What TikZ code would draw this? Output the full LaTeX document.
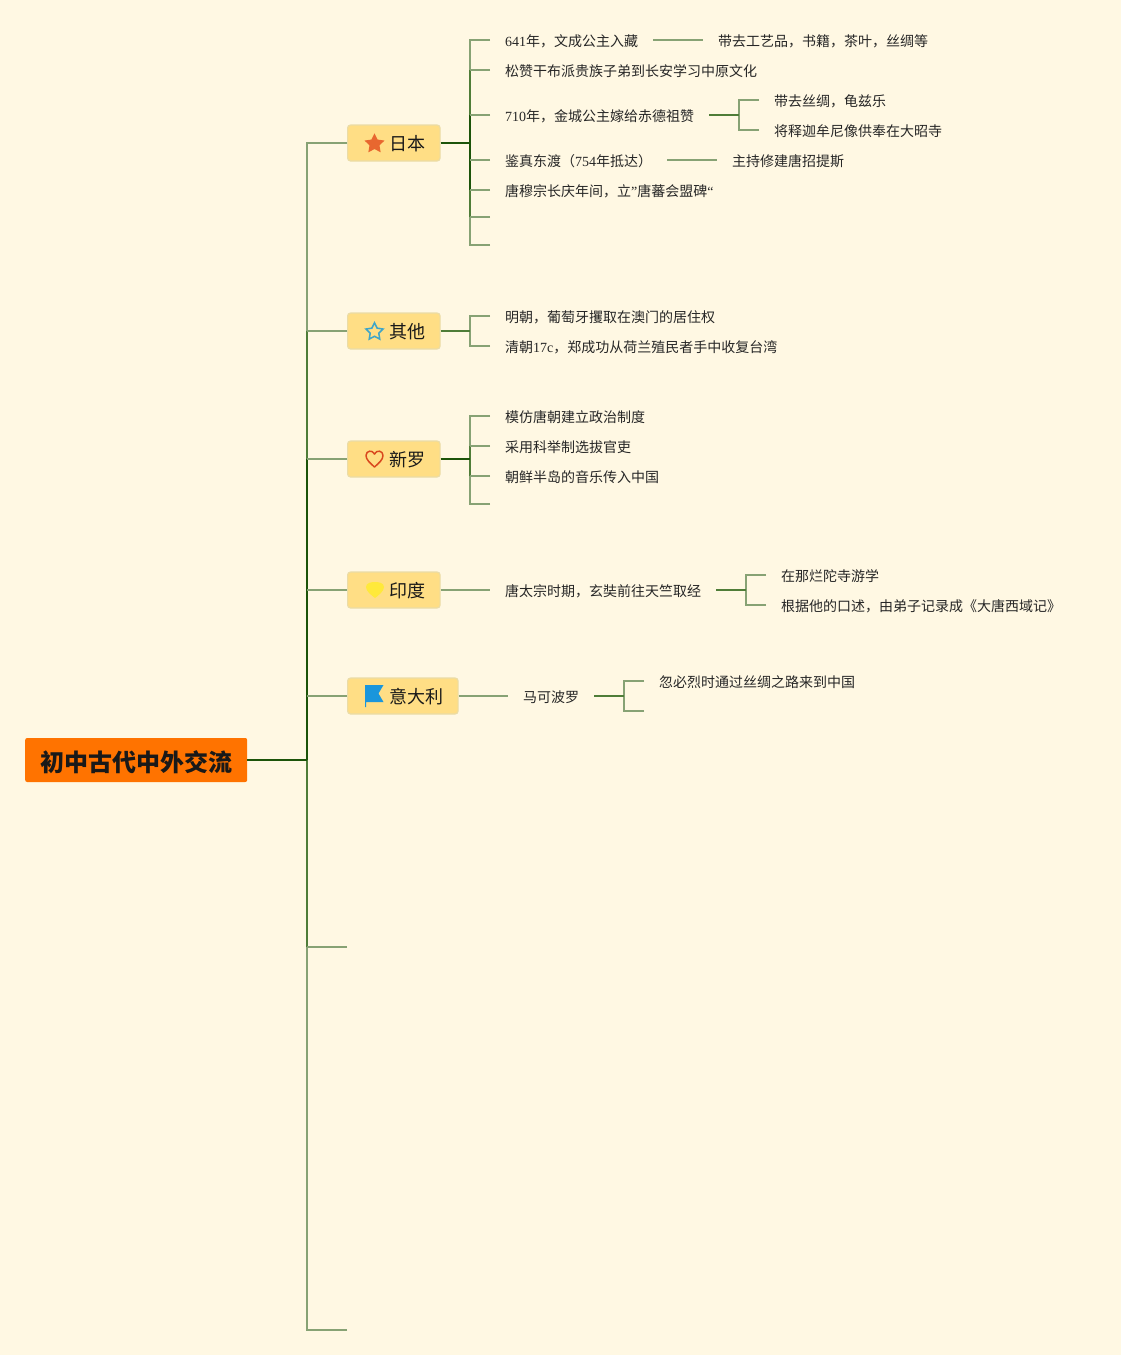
\documentclass[tikz,border=0pt]{standalone}
\usepackage{fontspec}
\setmainfont{Noto Sans CJK SC}
\newfontfamily\latf{Liberation Serif}
\newcommand{\lat}[1]{{\latf #1}}
\usetikzlibrary{shapes.geometric}
\definecolor{bgc}{HTML}{FFF8E3}
\definecolor{ltc}{HTML}{87A274}
\definecolor{mdc}{HTML}{4F7D38}
\definecolor{dkc}{HTML}{1C5409}
\definecolor{rootc}{HTML}{FF7300}
\definecolor{boxc}{HTML}{FFDE85}
\definecolor{boxb}{HTML}{EBDCA6}
\definecolor{starc}{HTML}{E8672F}
\definecolor{ostarc}{HTML}{3FA5C8}
\definecolor{heartc}{HTML}{D9481E}
\definecolor{gemc}{HTML}{FFE93B}
\definecolor{flagc}{HTML}{1A96DC}
\tikzset{
  lt/.style={draw=ltc,line width=1.5pt},
  md/.style={draw=mdc,line width=1.8pt},
  dk/.style={draw=dkc,line width=2pt},
  leaf/.style={anchor=west,inner xsep=15pt,inner ysep=0pt,text height=12.6pt,text depth=0pt,font=\fontsize{14pt}{14pt}\selectfont,text=black!85},
  topic/.style={anchor=west,inner xsep=14.5pt,inner ysep=0pt,minimum height=36pt,text height=15.7pt,text depth=0pt,rounded corners=3pt,fill=boxc,draw=boxb,line width=1.2pt,font=\fontsize{18pt}{18pt}\selectfont,text=black!90},
  rootn/.style={anchor=west,inner xsep=15pt,inner ysep=0pt,minimum width=222pt,minimum height=44pt,text height=22.2pt,text depth=0pt,rounded corners=2pt,fill=rootc,font=\fontsize{24pt}{24pt}\selectfont\bfseries,text=black!90},
  icon/.style={inner sep=0pt,minimum size=21pt,star,star points=5,star point ratio=2}
}
\newcommand{\tp}[1]{\hspace*{27.5pt}#1}
\begin{document}
\begin{tikzpicture}[x=1pt,y=-1pt]
\useasboundingbox (0,0) rectangle (1121,1355);
\fill[bgc] (0,0) rectangle (1121,1355);

% nodes
\node[rootn] (root) at (25,760) {初中古代中外交流};
\node[topic] (jp) at (347,143) {\tp{日本}};
\node[topic] (ot) at (347,331) {\tp{其他}};
\node[topic] (xl) at (347,459) {\tp{新罗}};
\node[topic] (yd) at (347,590) {\tp{印度}};
\node[topic] (it) at (347,696) {\tp{意大利}};

\node[leaf] (j1) at (490,40) {\lat{641}年，文成公主入藏};
\node[leaf] (j1a) at (703,40) {带去工艺品，书籍，茶叶，丝绸等};
\node[leaf] (j2) at (490,70) {松赞干布派贵族子弟到长安学习中原文化};
\node[leaf] (j3) at (490,115) {\lat{710}年，金城公主嫁给赤德祖赞};
\node[leaf] (j3a) at (759,100) {带去丝绸，龟兹乐};
\node[leaf] (j3b) at (759,130) {将释迦牟尼像供奉在大昭寺};
\node[leaf] (j4) at (490,160) {鉴真东渡（\lat{754}年抵达）};
\node[leaf] (j4a) at (717,160) {主持修建唐招提斯};
\node[leaf] (j5) at (490,190) {唐穆宗长庆年间，立\lat{”}唐蕃会盟碑\lat{“}};
\coordinate (j6) at (490,217);
\coordinate (j7) at (490,245);

\node[leaf] (o1) at (490,316) {明朝，葡萄牙攫取在澳门的居住权};
\node[leaf] (o2) at (490,346) {清朝\lat{17c}，郑成功从荷兰殖民者手中收复台湾};

\node[leaf] (x1) at (490,416) {模仿唐朝建立政治制度};
\node[leaf] (x2) at (490,446) {采用科举制选拔官吏};
\node[leaf] (x3) at (490,476) {朝鲜半岛的音乐传入中国};
\coordinate (x4) at (490,504);

\node[leaf] (y1) at (490,590) {唐太宗时期，玄奘前往天竺取经};
\node[leaf] (y1a) at (766,575) {在那烂陀寺游学};
\node[leaf] (y1b) at (766,605) {根据他的口述，由弟子记录成《大唐西域记》};

\node[leaf] (i1) at (508,696) {马可波罗};
\node[leaf] (i1a) at (644,681) {忽必烈时通过丝绸之路来到中国};
\coordinate (i1b) at (644,711);

% main trunk
\coordinate (Tx) at (307,760);
\coordinate (t6) at (347,947);
\coordinate (t7) at (347,1330);
\draw[lt] (jp.west) -| (Tx);
\draw[lt] (t7) -| (Tx);
\draw[md] (ot.west -| Tx) -- (t6 -| Tx);
\draw[dk] (xl.west -| Tx) -- (Tx);
\draw[lt] (ot.west) -- (ot.west -| Tx);
\draw[lt] (xl.west) -- (xl.west -| Tx);
\draw[lt] (yd.west) -- (yd.west -| Tx);
\draw[lt] (it.west) -- (it.west -| Tx);
\draw[lt] (t6) -- (t6 -| Tx);
\draw[dk] (root.east) -- (Tx);

% Japan branch
\coordinate (Jx) at (470,143);
\draw[lt] (j1.west) -| (Jx);
\draw[lt] (j7) -| (Jx);
\draw[md] (j2.west -| Jx) -- (j6 -| Jx);
\draw[dk] (j3.west -| Jx) -- (j5.west -| Jx);
\draw[lt] (j2.west) -- (j2.west -| Jx);
\draw[lt] (j3.west) -- (j3.west -| Jx);
\draw[lt] (j4.west) -- (j4.west -| Jx);
\draw[lt] (j5.west) -- (j5.west -| Jx);
\draw[lt] (j6) -- (j6 -| Jx);
\draw[dk] (jp.east) -- (Jx);
\draw[lt] (j1.east) -- (j1a.west);
\draw[lt] (j4.east) -- (j4a.west);
\coordinate (J3x) at (739,115);
\draw[lt] (j3a.west) -| (J3x);
\draw[lt] (j3b.west) -| (J3x);
\draw[md] (j3.east) -- (J3x);

% Other branch
\coordinate (Ox) at (470,331);
\draw[lt] (o1.west) -| (Ox);
\draw[lt] (o2.west) -| (Ox);
\draw[md] (ot.east) -- (Ox);

% Silla branch
\coordinate (Xx) at (470,459);
\draw[lt] (x1.west) -| (Xx);
\draw[lt] (x4) -| (Xx);
\draw[md] (x2.west -| Xx) -- (x3.west -| Xx);
\draw[lt] (x2.west) -- (x2.west -| Xx);
\draw[lt] (x3.west) -- (x3.west -| Xx);
\draw[dk] (xl.east) -- (Xx);

% India branch
\draw[lt] (yd.east) -- (y1.west);
\coordinate (Yx) at (746,590);
\draw[lt] (y1a.west) -| (Yx);
\draw[lt] (y1b.west) -| (Yx);
\draw[md] (y1.east) -- (Yx);

% Italy branch
\draw[lt] (it.east) -- (i1.west);
\coordinate (Ix) at (624,696);
\draw[lt] (i1a.west) -| (Ix);
\draw[lt] (i1b) -| (Ix);
\draw[md] (i1.east) -- (Ix);

% icons
\node[icon,fill=starc] (istar) at (374.5,143.8) {};
\node[icon,draw=ostarc,line width=1.5pt,minimum size=18pt] (ostar) at (374.5,331.8) {};
\draw[draw=heartc,line width=1.5pt,line join=round]
  (374.5,467) .. controls (370,463) and (366,459.5) .. (366,455.5)
  .. controls (366,450.5) and (372.5,449.5) .. (374.5,454)
  .. controls (376.5,449.5) and (383,450.5) .. (383,455.5)
  .. controls (383,459.5) and (379,463) .. (374.5,467) -- cycle;
\fill[gemc]
  (375,598) .. controls (371,595) and (366,591) .. (366,587)
  .. controls (366,583) and (371,582) .. (375,582)
  .. controls (379,582) and (384,583) .. (384,587)
  .. controls (384,591) and (379,595) .. (375,598) -- cycle;
\fill[flagc]
  (365,685) -- (383.5,685) -- (378.5,693.5) -- (383.5,702) -- (366.2,702) -- (366.2,707) -- (365,707) -- cycle;
\end{tikzpicture}
\end{document}
